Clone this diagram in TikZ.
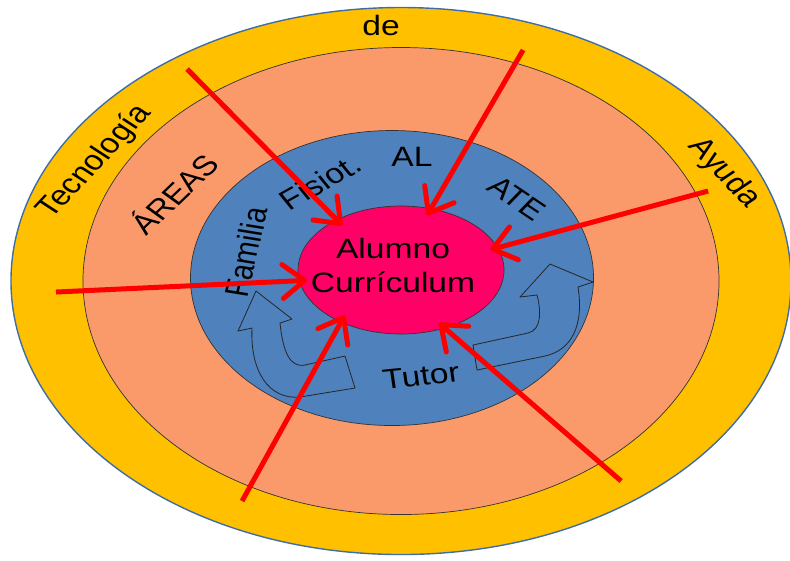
\documentclass[tikz,border=0pt]{standalone}
\usepackage{fontspec}
\setmainfont{Liberation Sans}
\usetikzlibrary{shapes.geometric,arrows.meta}
\definecolor{ringgold}{HTML}{FFC000}
\definecolor{ringsalmon}{HTML}{FA9A6A}
\definecolor{ringblue}{HTML}{4F81BD}
\definecolor{rimblue}{HTML}{3F6DA6}
\definecolor{corepink}{HTML}{FF0066}

\begin{document}
\begin{tikzpicture}[x=0.8333pt, y=-1pt, xscale=1.2,
    ring/.style={ellipse, draw=black!80, line width=0.7pt, inner sep=0},
    lbl/.style={transform shape, inner sep=0, font=\fontsize{28}{34}\selectfont},
    push/.style={draw=red, line width=5pt, -{Straight Barb[length=22pt, width=34pt, round]}, shorten >=-8pt},
    uturn/.style={draw=black!85, line width=0.8pt, line join=round}]
    \useasboundingbox (0,0) rectangle (790,560);

    % Rings (outer to inner)
    \node[ring, draw=rimblue, line width=1.4pt, fill=ringgold, minimum width=780pt, minimum height=547pt] (tecnologia) at (401,281) {};
    \node[ring, fill=ringsalmon, minimum width=636pt, minimum height=467pt] (areas) at (401,281) {};
    \node[ring, fill=ringblue, minimum width=403pt, minimum height=295pt] (apoyos) at (392,278) {};

    % Turning arrows inside the blue ring
    \draw[uturn] (256,291) -- (292,319) -- (280,323) .. controls (283,352) and (290,368) .. (305,365) -- (345,356) -- (355,388) -- (300,397) .. controls (268,400) and (250,370) .. (252,328) -- (238,331) -- cycle;
    \draw[uturn] (550,264) -- (593,282) -- (578,287) .. controls (584,325) and (572,350) .. (545,356) -- (477,370) -- (473,345) -- (528,333) .. controls (542,330) and (541,310) .. (537,295) -- (520,297) -- cycle;

    % Core
    \node[ring, fill=corepink, minimum width=206pt, minimum height=128pt] (alumno) at (401,270) {};
    \node[lbl, align=center] (alumnotxt) at (393,265) {Alumno\\Currículum};

    % Ring labels
    \node[lbl] (de) at (381,25) {de};
    \node[lbl, rotate=52] (tecno) at (95,162) {Tecnología};
    \node[lbl, rotate=-51] (ayuda) at (724,173) {Ayuda};
    \node[lbl, rotate=49] (areaslbl) at (173,193) {ÁREAS};
    \node[lbl, rotate=79] (familia) at (246,252) {Familia};
    \node[lbl, rotate=34] (fisiot) at (320,182) {Fisiot.};
    \node[lbl] (al) at (412,157) {AL};
    \node[lbl, rotate=-39] (ate) at (517,198) {ATE};
    \node[lbl, rotate=7] (tutor) at (421,376) {Tutor};

    % Red arrows towards the student
    \coordinate (src1) at (187,69);
    \coordinate (src2) at (523,50);
    \coordinate (src3) at (708,191);
    \coordinate (src4) at (56,292);
    \coordinate (src5) at (242,501);
    \coordinate (src6) at (621,481);
    \draw[push] (src1) -- (alumno.142);
    \draw[push] (src2) -- (alumno.64);
    \draw[push] (src3) -- (alumno.13);
    \draw[push] (src4) -- (alumno.186);
    \draw[push] (src5) -- (alumno.221);
    \draw[push] (src6) -- (alumno.307);
\end{tikzpicture}
\end{document}
